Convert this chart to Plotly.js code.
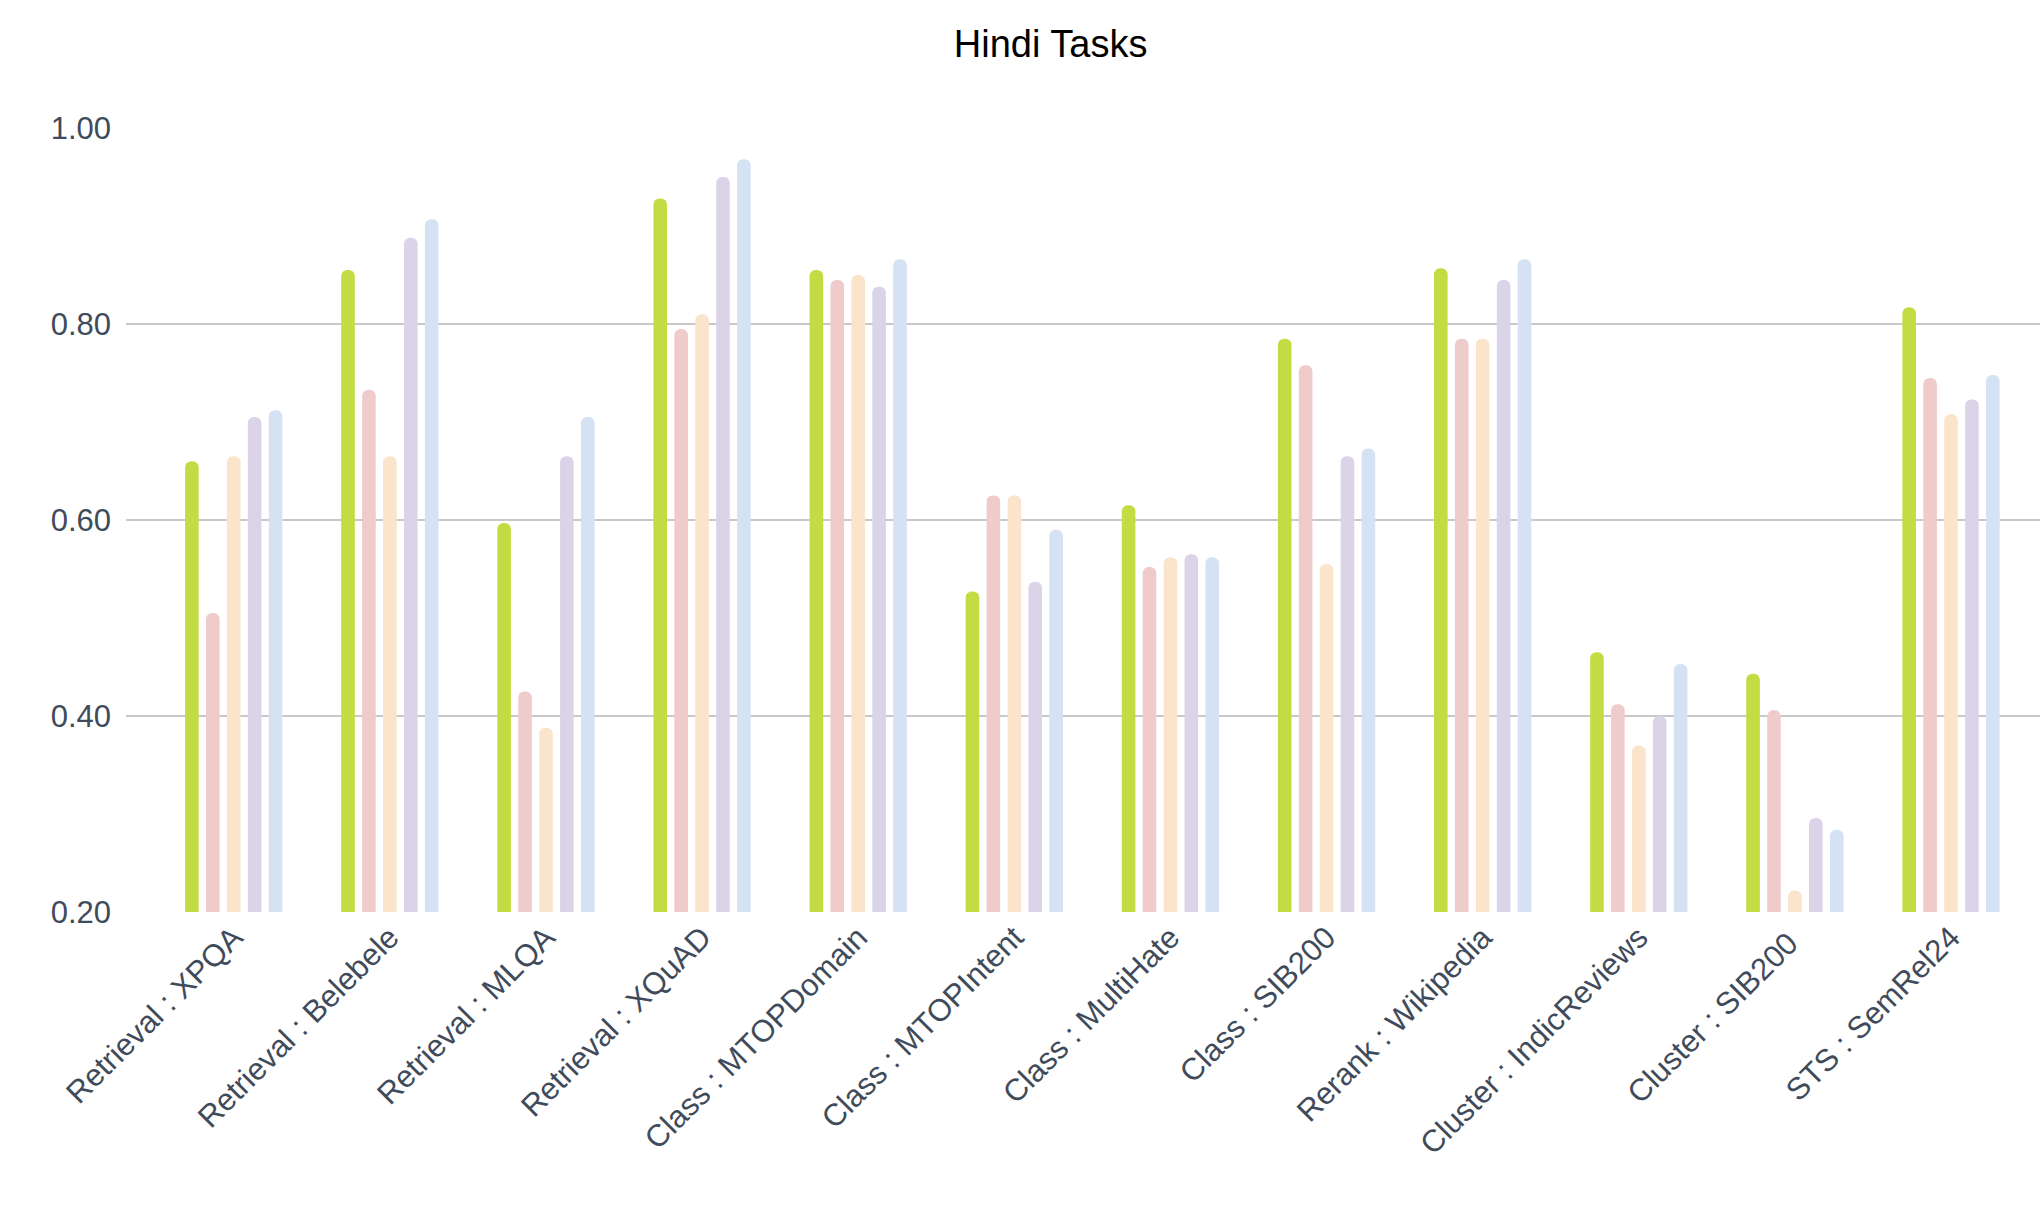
<!DOCTYPE html><html><head><script src="https://cdn.plot.ly/plotly-3.0.1.min.js"></script>
<style>body{margin:0;background:#fff}</style></head><body><div id="c" style="width:2040px;height:1218px"></div><script>
const categories=["Retrieval : XPQA","Retrieval : Belebele","Retrieval : MLQA","Retrieval : XQuAD","Class : MTOPDomain","Class : MTOPIntent","Class : MultiHate","Class : SIB200","Rerank : Wikipedia","Cluster : IndicReviews","Cluster : SIB200 ","STS : SemRel24"];
const s1=[0.66,0.855,0.597,0.928,0.855,0.527,0.615,0.785,0.857,0.465,0.443,0.817];
const s2=[0.505,0.733,0.425,0.795,0.845,0.625,0.552,0.758,0.785,0.412,0.406,0.745];
const s3=[0.665,0.665,0.388,0.81,0.85,0.625,0.562,0.555,0.785,0.37,0.222,0.708];
const s4=[0.705,0.888,0.665,0.95,0.838,0.537,0.565,0.665,0.845,0.40,0.296,0.723];
const s5=[0.712,0.907,0.705,0.968,0.866,0.59,0.562,0.673,0.866,0.453,0.284,0.748];
const colors=["#c3dc43","#f0cbcb","#fae4cb","#dbd4e8","#d4e2f4"];
const data=[s1,s2,s3,s4,s5].map((v,i)=>({type:'bar',x:categories,y:v,marker:{color:colors[i]},hoverinfo:'y'}));
Plotly.newPlot('c',data,{
 width:2040,height:1218,showlegend:false,barmode:'group',bargap:0.33,bargroupgap:0.35,barcornerradius:6,
 margin:{l:126,r:0,t:128,b:306},paper_bgcolor:'#fff',plot_bgcolor:'#fff',
 title:{text:'Hindi Tasks',x:0.515,xanchor:'center',y:0.964,yanchor:'middle',font:{family:'Arial, Liberation Sans',size:38,color:'#000'}},
 xaxis:{range:[-0.69,11.57],tickangle:-45,tickfont:{family:'Arial, Liberation Sans',size:31,color:'#3f4b5b'},showgrid:false,showline:false,ticks:''},
 yaxis:{range:[0.2,1.0],dtick:0.2,tickformat:'.2f',gridcolor:'#c8c8c8',gridwidth:2,zeroline:false,tickfont:{family:'Arial, Liberation Sans',size:31,color:'#3f4b5b'},ticklen:0,ticks:'',ticklabelstandoff:14,automargin:false},
},{displayModeBar:false});
</script></body></html>
